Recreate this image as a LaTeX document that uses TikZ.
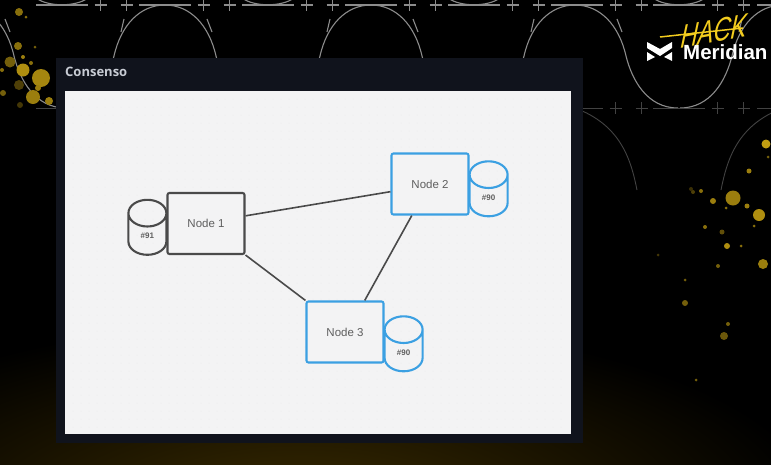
\documentclass[tikz,border=0pt]{standalone}
\usepackage{fontspec}
\setmainfont{Liberation Sans}
\newfontfamily\titlefont{Open Sans}
\usetikzlibrary{shapes.geometric}
\usetikzlibrary{positioning}
\definecolor{panelbg}{HTML}{10131C}
\definecolor{canvasbg}{HTML}{F3F3F4}
\definecolor{griddot}{HTML}{EAEAEB}
\definecolor{edgegray}{HTML}{4A4A4A}
\definecolor{nodeblue}{HTML}{3BA0E2}
\definecolor{labelgray}{HTML}{5E5E5E}
\definecolor{titlegray}{HTML}{C8CCD4}
\definecolor{splat}{HTML}{C29E12}
\definecolor{hackyellow}{HTML}{F2CC1E}
\definecolor{glow}{HTML}{3A2B00}
\tikzset{node box/.style={draw, line width=2.1pt, rounded corners=2pt, fill=canvasbg, minimum width=77pt, minimum height=61pt, inner sep=0pt, text=labelgray, font=\fontsize{11.5}{14}\selectfont}}
\tikzset{data store/.style={draw, line width=2.1pt, cylinder, shape border rotate=90, aspect=2, minimum width=38pt, minimum height=55pt, inner sep=0pt, text=labelgray, font=\bfseries\fontsize{8}{10}\selectfont}}
\tikzset{wave line/.style={line width=1.1pt, draw=white!55!black}}
\tikzset{wave dim/.style={line width=0.9pt, draw=white!26!black}}
\begin{document}
\begin{tikzpicture}[x=1pt, y=-1pt]
\useasboundingbox (0,0) rectangle (771,464);
\fill[black] (-2,-2) rectangle (773,466);
\begin{scope}
\clip (-2,-2) rectangle (773,466);
\shade[inner color=glow, outer color=black] (300,510) ellipse (520 and 190);
% wave lines behind the panel
\foreach \cx in {-37,165,371,575,783} {
  \draw[wave line] (\cx-103,108) .. controls (\cx-72,108) and (\cx-57,80) .. (\cx-51,56) .. controls (\cx-44,25) and (\cx-25,5) .. (\cx,5) .. controls (\cx+25,5) and (\cx+44,25) .. (\cx+51,56) .. controls (\cx+57,80) and (\cx+72,108) .. (\cx+103,108);
  \draw[wave line] (\cx-41,19) -- (\cx-44,32);
  \draw[wave line] (\cx+42,19) -- (\cx+47,32);
}
\foreach \cx in {575,783}
  \draw[wave dim] (\cx-62,190) .. controls (\cx-56,160) and (\cx-46,125) .. (\cx,108) .. controls (\cx+46,125) and (\cx+56,160) .. (\cx+62,190);
\foreach \c in {62,268,474,679}
  \draw[wave line] (\c-26,-2) .. controls (\c-14,7) and (\c+14,7) .. (\c+26,-2);
\foreach \c in {62,165,268,371,474,577,679,783} {
  \draw[wave line] (\c-26,5) -- (\c+26,5);
  \draw[wave dim] (\c-26,108) -- (\c+26,108);
  \foreach \p in {38.5,64.5} {
    \draw[wave line] (\c+\p-6,5) -- (\c+\p+6,5);
    \draw[wave line] (\c+\p,-1) -- (\c+\p,11);
    \draw[wave dim] (\c+\p-6,108) -- (\c+\p+6,108);
    \draw[wave dim] (\c+\p,102) -- (\c+\p,114);
  }
}
% paint splats
\foreach \x/\y/\r/\p in {19/12/4/70,26/17/1.5/70,18/46/4/70,35/47/1.5/60,23/57/2/80,10/62/5.5/60,23/70/6.5/90,31/63/2/70,2/70/2/70,41/78/9/85,38/88/3/80,33/97/7/80,49/101/4/80,19/85/5/40,3/93/3/60,20/105/3/35,
  733/198/7.5/80,713/201/3/80,747/206/2.5/80,759/215/6/90,726/208/1.5/70,701/191/2/70,693/192/2/40,705/227/2/70,722/232/2.5/50,754/226/1.5/70,727/246/3/90,741/246/1.5/70,763/264/5/80,718/266/2/60,685/280/1.5/60,658/255/1.5/35,685/303/3/60,728/324/2/60,724/336/4/55,766/144/4.5/100,768/157/1.5/60,749/171/2.5/80,696/380/1.5/60,691/189/2/30}
  \fill[splat!\p!black] (\x,\y) circle (\r);
\end{scope}
% slide panel
\fill[panelbg] (56,58) rectangle (583,443);
\fill[canvasbg] (65,91) rectangle (571,434);
\foreach \x in {73,81,...,565}
  \foreach \y in {99,107,...,430}
    \fill[griddot] (\x,\y) circle (0.5);
\node[anchor=west, text=titlegray, inner sep=0pt, font=\titlefont\fontsize{13}{15}\selectfont\bfseries] (title) at (65,71.5) {Consenso};
% logo
\fill[white] (647,42) -- (660,49) -- (672,42) -- (672,48) -- (660,56) -- (647,48) -- cycle;
\fill[white] (647,52) -- (655,57) -- (647,61) -- cycle;
\fill[white] (672,52) -- (664,57) -- (672,61) -- cycle;
\node[anchor=west, text=white, inner sep=0pt, font=\bfseries\fontsize{20.5}{22}\selectfont] (brand) at (683,52) {Meridian};
\node[text=hackyellow, inner sep=0pt, font=\itshape\fontsize{24}{26}\selectfont, transform shape, yscale=1.35, rotate=8, xslant=0.25] (hack) at (714,31) {HACK};
\draw[hackyellow, line width=1.5pt] (660,37) -- (743,28);
% diagram
\node[node box, draw=edgegray] (n1) at (206,223.5) {Node 1};
\node[node box, draw=nodeblue] (n2) at (430,184) {Node 2};
\node[node box, draw=nodeblue] (n3) at (345,332) {Node 3};
\node[data store, draw=edgegray, left=-1pt of n1, yshift=-11pt] (db1) {\raisebox{-9pt}{\#91}};
\node[data store, draw=nodeblue, right=-1pt of n2, yshift=-12pt] (db2) {\raisebox{-9pt}{\#90}};
\node[data store, draw=nodeblue, right=-1pt of n3, yshift=-19pt] (db3) {\raisebox{-9pt}{\#90}};
\draw[edgegray, line width=1.6pt] (n1.11) -- (n2.191);
\draw[edgegray, line width=1.6pt] (n1.south east) -- (n3.north west);
\draw[edgegray, line width=1.6pt] (n2.240) -- (n3.58.5);
\end{tikzpicture}
\end{document}
